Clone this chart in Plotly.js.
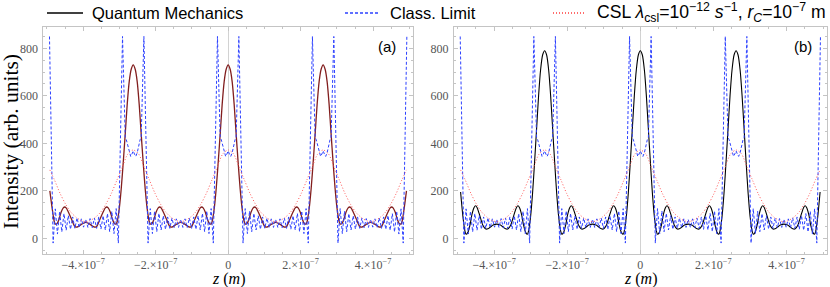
<!DOCTYPE html>
<html>
<head>
<meta charset="utf-8">
<script src="https://cdn.plot.ly/plotly-3.0.1.min.js"></script>
<style>html,body{margin:0;padding:0;background:#fff;}#plot{width:830px;height:287px;}</style>
</head>
<body>
<div id="plot"></div>
<script>
// z positions in nanometres (axis ticks are labelled in metres)
const zBlueNm = [-493,
 -483,-477,-471,-465,-459,-453,-447,-441,-435,-429,-423,-417,-411,-405,-399,-393,-387,-381,-375,-369,-363,-357,-351,-345,-339,-333,-327,-321,-315,-309,-303,
 -291.5,-287,-284,-281,-277,-273,-269,-265.5,-262,-258.5,-255,-251,-247,-243,-240,-237,-232.5,
 -221,-215,-209,-203,-197,-191,-185,-179,-173,-167,-161,-155,-149,-143,-137,-131,-125,-119,-113,-107,-101,-95,-89,-83,-77,-71,-65,-59,-53,-47,-41,
 -29.5,-25,-22,-19,-15,-11,-7,-3.5,0,3.5,7,11,15,19,22,25,29.5,
 41,47,53,59,65,71,77,83,89,95,101,107,113,119,125,131,137,143,149,155,161,167,173,179,185,191,197,203,209,215,221,
 232.5,237,240,243,247,251,255,258.5,262,265.5,269,273,277,281,284,287,291.5,
 303,309,315,321,327,333,339,345,351,357,363,369,375,381,387,393,399,405,411,417,423,429,435,441,447,453,459,465,471,477,483,
 493];
const classLimit = [850,
 -20,124,18,114,27,104,34,96,38,90,42,86,45,82,47,80,46,83,45,85,42,90,39,95,35,104,28,114,20,125,-20,
 850,590,425,415,390,360,345,355,368,355,345,360,390,415,425,590,850,
 -20,125,20,115,28,105,35,95,38,90,42,85,45,82,46,80,46,82,45,85,42,90,38,95,35,105,28,115,20,125,-20,
 850,590,425,415,390,360,345,355,368,355,345,360,390,415,425,590,850,
 -20,125,20,115,28,105,35,95,38,90,42,85,45,82,46,80,46,82,45,85,42,90,38,95,35,105,28,115,20,125,-20,
 850,590,425,415,390,360,345,355,368,355,345,360,390,415,425,590,850,
 -20,125,20,114,28,104,35,95,39,90,42,85,45,83,46,80,47,82,45,86,42,90,38,96,34,104,27,114,18,124,-20,
 850];

const zQmNm = [-492,-485.5,-480,-477,-472,-466,-461,-455,-451,-447,-442,-436,-431,-424,-419.5,-414,-408.5,-403,-393,
 -383,-377.5,-372,-366.5,-362,-355,-350,-344,-339,-335,-331,-325,-320,-314,-309,-306,-300.5,-295,-289.5,-284,-278.5,-273,-267.5,-262,
 -256.5,-251,-245.5,-240,-234.5,-229,-223.5,-218,-215,-210,-204,-199,-193,-189,-185,-180,-174,-169,-162,-157.5,-152,-146.5,-141,-131,
 -121,-115.5,-110,-104.5,-100,-93,-88,-82,-77,-73,-69,-63,-58,-52,-47,-44,-38.5,-33,-27.5,-22,-16.5,-11,-5.5,0,
 5.5,11,16.5,22,27.5,33,38.5,44,47,52,58,63,69,73,77,82,88,93,100,104.5,110,115.5,121,131,
 141,146.5,152,157.5,162,169,174,180,185,189,193,199,204,210,215,218,223.5,229,234.5,240,245.5,251,256.5,262,
 267.5,273,278.5,284,289.5,295,300.5,306,309,314,320,325,331,335,339,344,350,355,362,366.5,372,377.5,383,393,
 403,408.5,414,419.5,424,431,436,442,447,451,455,461,466,472,477,480,485.5,492];
// panel (a) quantum mechanics
const qmA = [200,125,72,60,62,84,110,128,132,128,114,94,76,52,47,49,55,61,67,
 61,55,49,47,52,76,94,114,128,132,128,110,84,62,60,72,125,210,320,440,565,660,712,730,
 712,660,565,440,320,210,125,72,60,62,84,110,128,132,128,114,94,76,52,47,49,55,61,67,
 61,55,49,47,52,76,94,114,128,132,128,110,84,62,60,72,125,210,320,440,565,660,712,730,
 712,660,565,440,320,210,125,72,60,62,84,110,128,132,128,114,94,76,52,47,49,55,61,67,
 61,55,49,47,52,76,94,114,128,132,128,110,84,62,60,72,125,210,320,440,565,660,712,730,
 712,660,565,440,320,210,125,72,60,62,84,110,128,132,128,114,94,76,52,47,49,55,61,67,
 61,55,49,47,52,76,94,114,128,132,128,110,84,62,60,72,125,200];
// panel (b) quantum mechanics
const qmB = [195,90,30,17,25,58,100,130,137,130,108,78,55,40,39,43,50,56,60,
 56,50,43,39,40,55,78,108,130,137,130,100,58,25,17,30,90,190,320,460,600,710,772,790,
 772,710,600,460,320,190,90,30,17,25,58,100,130,137,130,108,78,55,40,39,43,50,56,60,
 56,50,43,39,40,55,78,108,130,137,130,100,58,25,17,30,90,190,320,460,600,710,772,790,
 772,710,600,460,320,190,90,30,17,25,58,100,130,137,130,108,78,55,40,39,43,50,56,60,
 56,50,43,39,40,55,78,108,130,137,130,100,58,25,17,30,90,190,320,460,600,710,772,790,
 772,710,600,460,320,190,90,30,17,25,58,100,130,137,130,108,78,55,40,39,43,50,56,60,
 56,50,43,39,40,55,78,108,130,137,130,100,58,25,17,30,90,195];

const zCslNm = [-492,-479,-464,-449,-434,-419,-404,-393,-382,-367,-352,-337,-322,-307,-292,-277,-262,
 -247,-232,-217,-202,-187,-172,-157,-142,-131,-120,-105,-90,-75,-60,-45,-30,-15,0,
 15,30,45,60,75,90,105,120,131,142,157,172,187,202,217,232,247,262,
 277,292,307,322,337,352,367,382,393,404,419,434,449,464,479,492];
const csl = [288,245,190,145,110,88,74,70,74,88,110,145,190,245,300,355,372,
 355,300,245,190,145,110,88,74,70,74,88,110,145,190,245,300,355,372,
 355,300,245,190,145,110,88,74,70,74,88,110,145,190,245,300,355,372,
 355,300,245,190,145,110,88,74,70,74,88,110,145,190,245,288];

const zTickVals = [-400,-200,0,200,400];
const zTickText = ['\u22124.\u00d710<sup>\u22127</sup>','\u22122.\u00d710<sup>\u22127</sup>','0','2.\u00d710<sup>\u22127</sup>','4.\u00d710<sup>\u22127</sup>'];
const yTickVals = [0,200,400,600,800];

const frameCol = '#c4c4c4';
const serif = '"Liberation Serif", "Times New Roman", serif';
const sans = '"Liberation Sans", Arial, Helvetica, sans-serif';
const tickFont = {family:serif, size:12, color:'#555'};
const blueLine = {color:'rgb(45,65,255)', width:1, dash:'3px,2px'};
const redLine = {color:'rgb(255,90,90)', width:1, dash:'1px,2px', shape:'spline', smoothing:0.8};

const traces = [
  {x:zQmNm, y:qmA, xaxis:'x', yaxis:'y', mode:'lines', line:{color:'rgb(130,30,30)', width:1.3, shape:'spline', smoothing:0.7}},
  {x:zBlueNm, y:classLimit, xaxis:'x', yaxis:'y', mode:'lines', line:blueLine},
  {x:zCslNm, y:csl, xaxis:'x', yaxis:'y', mode:'lines', line:redLine},
  {x:zQmNm, y:qmB, xaxis:'x2', yaxis:'y2', mode:'lines', line:{color:'#000', width:1.1, shape:'spline', smoothing:0.7}},
  {x:zBlueNm, y:classLimit, xaxis:'x2', yaxis:'y2', mode:'lines', line:blueLine},
  {x:zCslNm, y:csl, xaxis:'x2', yaxis:'y2', mode:'lines', line:redLine}
];

function xAx(domain, anchor){
  return {domain:domain, anchor:anchor, range:[-510,510], tickvals:zTickVals, ticktext:zTickText,
    ticks:'inside', ticklen:4, tickcolor:frameCol, showline:true, linecolor:frameCol, linewidth:1, mirror:'ticks',
    showgrid:false, zeroline:true, zerolinecolor:'#d2d2d2', zerolinewidth:1, tickfont:tickFont,
    minor:{ticks:'inside', ticklen:2, dtick:50, tickcolor:frameCol, showgrid:false}, fixedrange:true};
}
function yAx(anchor){
  return {domain:[0.115,0.906], anchor:anchor, range:[-66,890], tickvals:yTickVals,
    ticks:'inside', ticklen:4, tickcolor:frameCol, showline:true, linecolor:frameCol, linewidth:1, mirror:'ticks',
    showgrid:false, zeroline:false, tickfont:tickFont, ticklabelstandoff:2,
    minor:{ticks:'inside', ticklen:2, dtick:50, tickcolor:frameCol, showgrid:false}, fixedrange:true};
}

const legY = 1 - 13/287;
const layout = {
  width:830, height:287, margin:{l:0,r:0,t:0,b:0}, showlegend:false,
  paper_bgcolor:'#fff', plot_bgcolor:'#fff',
  xaxis:xAx([0.0522,0.4976],'y'), yaxis:yAx('x'),
  xaxis2:xAx([0.547,0.996],'y2'), yaxis2:yAx('x2'),
  shapes:[
    {type:'line', xref:'paper', yref:'paper', x0:47/830, x1:83/830, y0:legY, y1:legY, line:{color:'#000', width:1.3}},
    {type:'line', xref:'paper', yref:'paper', x0:345/830, x1:378/830, y0:legY, y1:legY, line:{color:'rgb(45,65,255)', width:1.3, dash:'3px,2px'}},
    {type:'line', xref:'paper', yref:'paper', x0:553/830, x1:585/830, y0:legY, y1:legY, line:{color:'rgb(255,60,60)', width:1.3, dash:'1px,2px'}}
  ],
  annotations:[
    {xref:'paper', yref:'paper', x:90/830, y:legY, xanchor:'left', yanchor:'middle', showarrow:false,
     text:'Quantum Mechanics', font:{family:sans, size:16.5, color:'#000'}},
    {xref:'paper', yref:'paper', x:388/830, y:legY, xanchor:'left', yanchor:'middle', showarrow:false,
     text:'Class. Limit', font:{family:sans, size:16.5, color:'#000'}},
    {xref:'paper', yref:'paper', x:595/830, y:legY, xanchor:'left', yanchor:'middle', showarrow:false,
     text:'CSL <i>\u03bb</i><sub>csl</sub>=10<sup>\u221212</sup> <i>s</i><sup>\u22121</sup>, <i>r</i><sub><i>C</i></sub>=10<sup>\u22127</sup> m', font:{family:sans, size:17.6, color:'#000'}},
    {xref:'paper', yref:'paper', x:11/830, y:1-142/287, xanchor:'center', yanchor:'middle', showarrow:false, textangle:-90,
     text:'Intensity (arb. units)', font:{family:serif, size:21.5, color:'#000'}},
    {xref:'paper', yref:'paper', x:228/830, y:1-279/287, xanchor:'center', yanchor:'middle', showarrow:false,
     text:'<i>z</i> (<i>m</i>)', font:{family:serif, size:16, color:'#000'}},
    {xref:'paper', yref:'paper', x:640/830, y:1-279/287, xanchor:'center', yanchor:'middle', showarrow:false,
     text:'<i>z</i> (<i>m</i>)', font:{family:serif, size:16, color:'#000'}},
    {xref:'paper', yref:'paper', x:387/830, y:1-46/287, xanchor:'center', yanchor:'middle', showarrow:false,
     text:'(a)', font:{family:sans, size:15, color:'#000'}},
    {xref:'paper', yref:'paper', x:803/830, y:1-46/287, xanchor:'center', yanchor:'middle', showarrow:false,
     text:'(b)', font:{family:sans, size:15, color:'#000'}}
  ]
};
Plotly.newPlot('plot', traces, layout, {staticPlot:true, displayModeBar:false});
</script>
</body>
</html>
